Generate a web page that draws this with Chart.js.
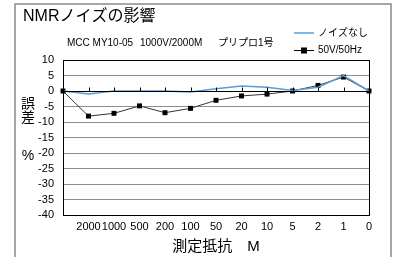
<!DOCTYPE html>
<html>
<head>
<meta charset="utf-8">
<script src="https://cdn.jsdelivr.net/npm/chart.js@4"></script>
<style>
  html, body { margin: 0; padding: 0; background: #fff; }
  #wrap { width: 397px; height: 257px; }
</style>
</head>
<body>
<div id="wrap"><canvas id="noiseChart" width="397" height="257"></canvas></div>
<script>
// categories (測定抵抗 M), first point has no label
const categories = ['', '2000', '1000', '500', '200', '100', '50', '20', '10', '5', '2', '1', '0'];
const noNoise = [0, -1, 0, 0, 0, -0.3, 0.7, 1.6, 1.2, 0.2, 1.2, 5, 0];   // ノイズなし
const noise50 = [0, -8.1, -7.2, -4.8, -7, -5.6, -3, -1.6, -1, 0, 1.8, 4.5, 0]; // 50V/50Hz
const yTicks = [10, 5, 0, -5, -10, -15, -20, -25, -30, -35, -40];

const FONT = "'Liberation Sans', Arial, 'Noto Sans CJK JP', sans-serif";
const BLUE = '#5a9bd8';

//============= extra drawing: frame, texts, legend, zero-line ticks ===========
const decor = {
  id: 'decor',
  afterDraw(chart) {
    const ctx = chart.ctx;
    const a = chart.chartArea;
    const x = chart.scales.x, y = chart.scales.y;
    ctx.save();
    // outer border
    ctx.strokeStyle = '#8a8a8a';
    ctx.lineWidth = 1.5;
    ctx.strokeRect(15, 4, 376, 262);
    // plot frame
    ctx.strokeStyle = '#000';
    ctx.lineWidth = 1;
    ctx.strokeRect(a.left + 0.5, a.top + 0.5, a.right - a.left, a.bottom - a.top);
    // zero line + small ticks
    const y0 = Math.round(y.getPixelForValue(0)) + 0.5;
    ctx.beginPath();
    ctx.moveTo(a.left, y0); ctx.lineTo(a.right, y0);
    for (let i = 1; i < categories.length - 1; i++) {
      const px = Math.round(x.getPixelForValue(i)) + 0.5;
      ctx.moveTo(px, y0); ctx.lineTo(px, y0 - 4);
    }
    ctx.stroke();
    // texts
    ctx.fillStyle = '#000';
    ctx.textBaseline = 'middle';
    ctx.font = '16px ' + FONT;
    ctx.fillText('NMRノイズの影響', 23, 17);
    ctx.font = '10px ' + FONT;
    ctx.fillText('MCC MY10-05', 67, 43);
    ctx.fillText('1000V/2000M', 140, 43);
    ctx.fillText('プリプロ1号', 218, 43);
    // legend
    ctx.lineWidth = 1.5;
    ctx.strokeStyle = BLUE;
    ctx.beginPath(); ctx.moveTo(294, 33); ctx.lineTo(314, 33); ctx.stroke();
    ctx.fillText('ノイズなし', 318, 33);
    ctx.lineWidth = 1;
    ctx.strokeStyle = '#000';
    ctx.beginPath(); ctx.moveTo(294, 50.5); ctx.lineTo(314, 50.5); ctx.stroke();
    ctx.fillRect(301, 47.5, 6, 6);
    ctx.fillText('50V/50Hz', 318, 50);
    // axis titles
    ctx.font = '14px ' + FONT;
    ctx.textAlign = 'center';
    ctx.fillText('誤', 28, 104);
    ctx.fillText('差', 28, 118);
    ctx.fillText('%', 28, 156);
    ctx.font = '15px ' + FONT;
    ctx.fillText('測定抵抗　M', 216, 247);
    ctx.restore();
  }
};

const ctx = document.getElementById('noiseChart').getContext('2d');
new Chart(ctx, {
  type: 'line',
  data: {
    labels: categories,
    datasets: [{
      label: 'ノイズなし',
      data: noNoise,
      borderColor: BLUE,
      borderWidth: 1.5,
      pointRadius: 0,
      tension: 0
    }, {
      label: '50V/50Hz',
      data: noise50,
      borderColor: '#333',
      backgroundColor: '#000',
      borderWidth: 1,
      pointStyle: 'rect',
      pointRadius: 3.5,
      pointBorderWidth: 0,
      tension: 0
    }]
  },
  options: {
    responsive: false,
    animation: false,
    layout: { padding: { left: 0, top: 60, right: 28, bottom: 0 } },
    plugins: { legend: { display: false }, title: { display: false }, tooltip: { enabled: false } },
    scales: {
      x: {
        offset: false,
        grid: { display: false, drawTicks: false },
        border: { display: true, color: '#000' },
        ticks: { color: '#000', font: { family: FONT, size: 11 }, padding: 5, maxRotation: 0, autoSkip: false },
        afterFit: s => { s.height = 42; }
      },
      y: {
        min: -40,
        max: 10,
        afterBuildTicks: s => { s.ticks = yTicks.map(v => ({ value: v })); },
        grid: { color: '#8c8c8c', drawTicks: false },
        border: { display: true, color: '#000' },
        ticks: { color: '#000', font: { family: FONT, size: 11 }, padding: 9, autoSkip: false, stepSize: 5 },
        afterFit: s => { s.width = 63; }
      }
    }
  },
  plugins: [decor]
});
</script>
</body>
</html>
